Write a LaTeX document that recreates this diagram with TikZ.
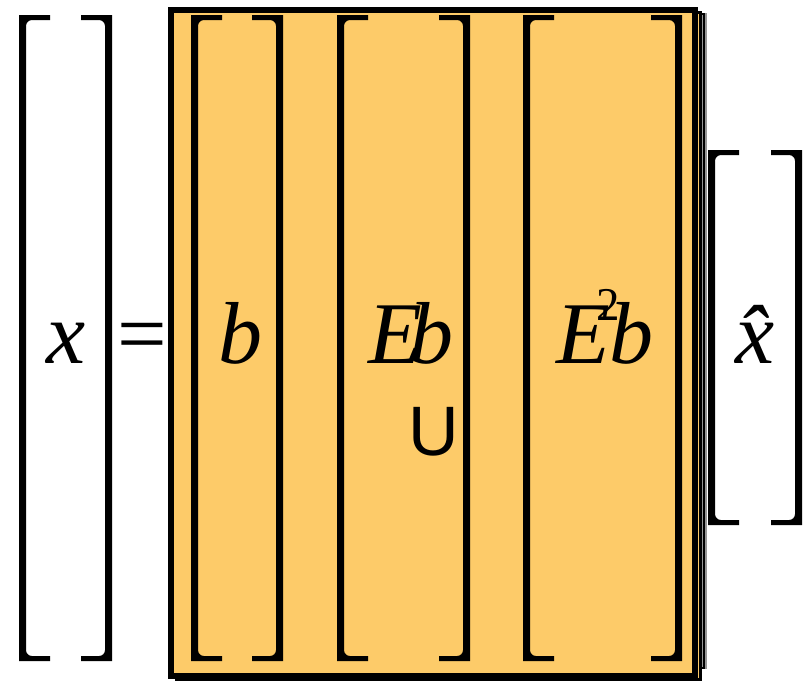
\documentclass[tikz,border=0pt]{standalone}
\usepackage{fontspec}
\setmainfont{Liberation Serif}
\newfontfamily\sansU{Liberation Sans}
\usepackage{xcolor}
\usepackage{tikz}
\definecolor{sheet}{RGB}{253, 203, 105}
\definecolor{edgegray}{RGB}{150, 150, 150}

\begin{document}
\begin{tikzpicture}[x=0.5pt, y=-0.5pt,
    sym/.style={inner sep=0pt, anchor=base, font=\fontsize{44}{50}\selectfont\itshape},
    page/.style={fill=sheet, draw=black, line width=3pt},
    brk/.style={fill=black}
]
    \useasboundingbox (0,0) rectangle (812,681);

    % Stacked sheets
    \filldraw[fill=edgegray, draw=edgegray, line width=1pt] (182,14) rectangle (706,668);
    \draw[black, line width=1pt] (182,14) rectangle (704,668);
    \filldraw[fill=sheet, draw=black, line width=1.5pt] (176,12) rectangle (700,679);
    \filldraw[page] (171,10) rectangle (695,676);

    % Brackets
    \foreach \l/\r/\t/\b in {19/112/15/661, 191/283/15/661, 337/470/15/661, 523/682/15/661, 708/802/150/525} {
        \fill[brk] (\l,\t) -- ++(31,0) -- ++(0,5) [rounded corners=3pt] -- (\l+7,\t+5) -- (\l+7,\b-5) [sharp corners] -- (\l+31,\b-5) -- ++(0,5) -- (\l,\b) -- cycle;
        \fill[brk] (\r,\t) -- ++(-31,0) -- ++(0,5) [rounded corners=3pt] -- (\r-7,\t+5) -- (\r-7,\b-5) [sharp corners] -- (\r-31,\b-5) -- ++(0,5) -- (\r,\b) -- cycle;
    }

    % Symbols
    \node[sym] (x) at (66,363) {x};
    \node[sym, font=\fontsize{44}{50}\selectfont] (eq) at (142,363) {=};
    \node[sym] (b) at (240,363) {b};
    \node[sym, anchor=base west] (Eb) at (368,363) {E\kern-6.5pt b};
    \node[sym, anchor=base west] (EEb) at (556,363) {E\kern-7pt\raisebox{21.5pt}{\fontsize{23.5}{26}\selectfont\upshape 2}\kern-5pt b};
    \node[inner sep=0pt, anchor=base, font=\sansU\fontsize{35}{40}\selectfont] (U) at (434,455) {U};
    \node[sym] (xhat) at (755,363) {\^{x}};
\end{tikzpicture}
\end{document}
